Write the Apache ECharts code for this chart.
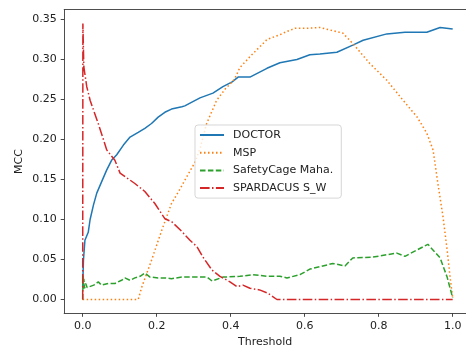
<!DOCTYPE html>
<html>
<head>
<meta charset="utf-8">
<script src="https://cdn.jsdelivr.net/npm/echarts@6/dist/echarts.min.js"></script>
<style>
html,body{margin:0;padding:0;background:#fff;}
#chart{width:466px;height:352px;}
</style>
</head>
<body>
<div id="chart"></div>
<script>
// ---- data ----
var xTicks = [0, 0.2, 0.4, 0.6, 0.8, 1.0];
var yTicks = [0, 0.05, 0.10, 0.15, 0.20, 0.25, 0.30, 0.35];

var doctorT = [0, 0.002, 0.006, 0.015, 0.02, 0.029, 0.038, 0.051, 0.065, 0.078, 0.092, 0.11, 0.128, 0.15, 0.168, 0.186, 0.204, 0.222, 0.24, 0.268, 0.276, 0.317, 0.352, 0.379, 0.404, 0.42, 0.452, 0.498, 0.533, 0.579, 0.614, 0.641, 0.687, 0.73, 0.758, 0.822, 0.871, 0.93, 0.966, 1.0];
var doctorV = [0.015, 0.049, 0.074, 0.084, 0.1, 0.118, 0.133, 0.147, 0.162, 0.174, 0.181, 0.193, 0.203, 0.209, 0.214, 0.22, 0.228, 0.234, 0.238, 0.241, 0.242, 0.252, 0.258, 0.266, 0.272, 0.278, 0.278, 0.289, 0.296, 0.3, 0.306, 0.307, 0.309, 0.318, 0.324, 0.332, 0.334, 0.334, 0.34, 0.338];

var mspT = [0, 0.15, 0.16, 0.186, 0.214, 0.24, 0.263, 0.276, 0.304, 0.318, 0.335, 0.362, 0.385, 0.41, 0.425, 0.455, 0.479, 0.498, 0.533, 0.552, 0.574, 0.606, 0.641, 0.676, 0.703, 0.73, 0.776, 0.822, 0.866, 0.904, 0.93, 0.947, 0.96, 0.974, 0.985, 0.993, 1.0];
var mspV = [0, 0, 0.016, 0.049, 0.087, 0.12, 0.138, 0.149, 0.172, 0.19, 0.22, 0.249, 0.263, 0.275, 0.29, 0.305, 0.316, 0.325, 0.331, 0.335, 0.339, 0.339, 0.34, 0.336, 0.333, 0.32, 0.295, 0.274, 0.249, 0.228, 0.208, 0.187, 0.145, 0.103, 0.062, 0.028, 0.002];

var safetyT = [0, 0.001, 0.002, 0.003, 0.005, 0.008, 0.012, 0.017, 0.03, 0.035, 0.042, 0.051, 0.069, 0.087, 0.105, 0.114, 0.128, 0.141, 0.155, 0.168, 0.182, 0.204, 0.222, 0.24, 0.268, 0.298, 0.336, 0.35, 0.379, 0.425, 0.46, 0.498, 0.533, 0.552, 0.587, 0.614, 0.641, 0.676, 0.709, 0.73, 0.784, 0.849, 0.871, 0.904, 0.933, 0.966, 0.985, 1.0];
var safetyV = [0, 0.03, 0.012, 0.026, 0.014, 0.02, 0.015, 0.017, 0.018, 0.02, 0.022, 0.018, 0.02, 0.02, 0.024, 0.027, 0.024, 0.027, 0.029, 0.033, 0.028, 0.027, 0.027, 0.026, 0.028, 0.028, 0.028, 0.023, 0.028, 0.029, 0.031, 0.029, 0.029, 0.027, 0.031, 0.038, 0.041, 0.045, 0.042, 0.052, 0.053, 0.058, 0.054, 0.062, 0.069, 0.052, 0.028, 0.002];

var spardT = [0, 0.0005, 0.003, 0.011, 0.02, 0.042, 0.065, 0.087, 0.101, 0.141, 0.168, 0.195, 0.222, 0.241, 0.268, 0.29, 0.309, 0.325, 0.349, 0.371, 0.398, 0.417, 0.433, 0.452, 0.478, 0.5, 0.525, 1.0];
var spardV = [0, 0.345, 0.291, 0.266, 0.249, 0.22, 0.187, 0.174, 0.158, 0.145, 0.135, 0.12, 0.101, 0.097, 0.085, 0.074, 0.066, 0.053, 0.037, 0.029, 0.022, 0.016, 0.018, 0.014, 0.012, 0.008, 0, 0];

var names = ['DOCTOR', 'MSP', 'SafetyCage Maha.', 'SPARDACUS S_W'];
var colors = ['#1f77b4', '#ff7f0e', '#2ca02c', '#d62728'];

function zip(a, b) {
  var out = [];
  var n = Math.min(a.length, b.length);
  for (var i = 0; i < n; i++) out.push([a[i], b[i]]);
  return out;
}

var lw = 1.5;
var dashTypes = ['solid', [1.5, 2.5], [5.5, 2.4], [9.6, 2.4, 1.5, 2.4]];
var xs = [doctorT, mspT, safetyT, spardT];
var ys = [doctorV, mspV, safetyV, spardV];

var series = names.map(function (nm, i) {
  return {
    name: nm,
    type: 'line',
    xAxisIndex: 0,
    yAxisIndex: 0,
    data: zip(xs[i], ys[i]),
    symbol: 'none',
    showSymbol: false,
    smooth: false,
    clip: true,
    lineStyle: { color: colors[i], width: lw, type: dashTypes[i], cap: 'butt' },
    itemStyle: { color: colors[i] },
    emphasis: { disabled: true },
    z: 2 + i
  };
});

var font = 'DejaVu Sans';
var fs = 11;
var frameColor = '#3a3a3a';
var xMin = -0.05, xMax = 1.036;
var chart = echarts.init(document.getElementById('chart'), null, { renderer: 'canvas' });
chart.setOption({
  animation: false,
  backgroundColor: '#ffffff',
  textStyle: { fontFamily: font },
  grid: {
    left: 64.2, top: 9.7, right: 0, height: 303.6,
    show: false, containLabel: false, outerBoundsMode: 'none'
  },
  xAxis: [{
    type: 'value', min: xMin, max: xMax, position: 'bottom',
    name: 'Threshold', nameLocation: 'middle', nameGap: 23, nameMoveOverlap: false,
    nameTextStyle: { fontFamily: font, fontSize: fs, color: '#222' },
    axisLine: { show: true, onZero: false, lineStyle: { color: frameColor, width: 0.9 } },
    splitLine: { show: false },
    axisTick: { show: true, inside: false, length: 3.5, customValues: xTicks, lineStyle: { color: '#333', width: 0.9 } },
    axisLabel: { show: true, margin: 7, customValues: xTicks, fontFamily: font, fontSize: fs, color: '#222',
      formatter: function (v) { return v.toFixed(1); } }
  }, {
    type: 'value', min: xMin, max: xMax, position: 'top',
    axisLine: { show: true, onZero: false, lineStyle: { color: frameColor, width: 0.9 } },
    splitLine: { show: false }, axisTick: { show: false }, axisLabel: { show: false }
  }],
  yAxis: {
    type: 'value', min: -0.01725, max: 0.36225, position: 'left',
    name: 'MCC', nameLocation: 'middle', nameGap: 40, nameRotate: 90, nameMoveOverlap: false,
    nameTextStyle: { fontFamily: font, fontSize: fs, color: '#222' },
    axisLine: { show: true, onZero: false, lineStyle: { color: frameColor, width: 0.9 } },
    splitLine: { show: false },
    axisTick: { show: true, inside: false, length: 3.5, customValues: yTicks, lineStyle: { color: '#333', width: 0.9 } },
    axisLabel: { show: true, margin: 7.5, customValues: yTicks, fontFamily: font, fontSize: fs, color: '#222',
      formatter: function (v) { return v.toFixed(2); } }
  },
  legend: {
    show: true, orient: 'vertical', left: 195, top: 125,
    padding: [4.5, 8, 4.5, 4],
    itemWidth: 24, itemHeight: 10, itemGap: 6.7,
    backgroundColor: 'rgba(255,255,255,0.8)',
    borderColor: 'rgba(204,204,204,0.8)', borderWidth: 1, borderRadius: 3,
    selectedMode: false,
    itemStyle: { color: 'rgba(0,0,0,0)', borderWidth: 0, opacity: 0 },
    textStyle: { fontFamily: font, fontSize: fs, color: '#222', lineHeight: 11, padding: [0, 0, 0, 4] },
    data: names
  },
  series: series
});
</script>
</body>
</html>
